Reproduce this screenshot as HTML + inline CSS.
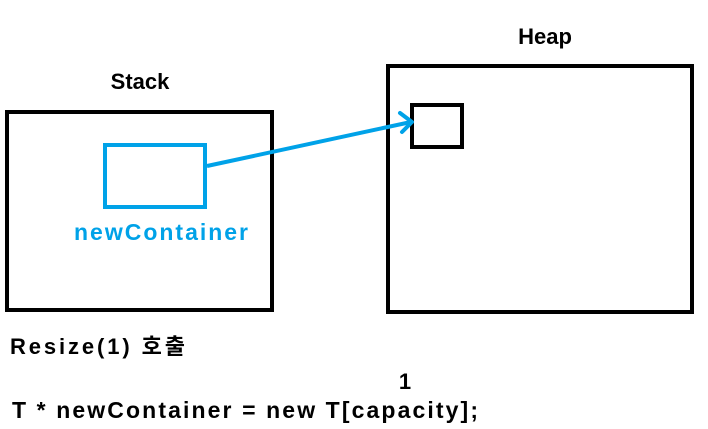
<!DOCTYPE html>
<html><head><meta charset="utf-8"><style>
html,body{margin:0;padding:0;background:#fff;}
svg{display:block;}
text{font-family:"Liberation Sans","Noto Sans CJK KR",sans-serif;font-weight:bold;}
</style></head><body>
<svg width="708" height="429" viewBox="0 0 708 429" xmlns="http://www.w3.org/2000/svg">
<rect x="7" y="112" width="265" height="198" fill="none" stroke="#000" stroke-width="4"/>
<rect x="388" y="66" width="304" height="246" fill="none" stroke="#000" stroke-width="4"/>
<rect x="412" y="105" width="50" height="42" fill="none" stroke="#000" stroke-width="4"/>
<rect x="105" y="145" width="100" height="62" fill="none" stroke="#00a2e8" stroke-width="4"/>
<line x1="207" y1="166" x2="411" y2="122" stroke="#00a2e8" stroke-width="4"/>
<polyline points="400,113 412,122 402,132" fill="none" stroke="#00a2e8" stroke-width="4" stroke-linejoin="round" stroke-linecap="round"/>
<text x="140" y="89" font-size="22" text-anchor="middle">Stack</text>
<text x="545" y="44" font-size="22" text-anchor="middle">Heap</text>
<text x="161" y="240" font-size="23" text-anchor="middle" fill="#00a2e8" textLength="174">newContainer</text>
<text x="10" y="354" font-size="22" textLength="175">Resize(1) 호출</text>
<text x="405" y="389" font-size="22" text-anchor="middle">1</text>
<text x="12" y="418" font-size="23" textLength="466">T * newContainer = new T[capacity];</text>
</svg>
</body></html>
